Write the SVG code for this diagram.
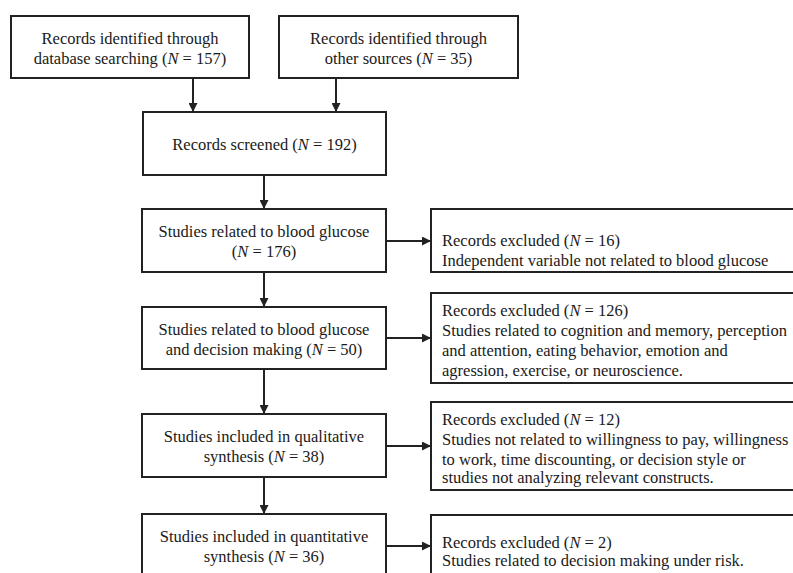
<svg xmlns="http://www.w3.org/2000/svg" width="793" height="573" viewBox="0 0 793 573">
<style>
.box{fill:#fff;stroke:#222;stroke-width:2}
.t{font-family:"Liberation Serif","Times New Roman",serif;font-size:16.5px;fill:#1a1a1a}
.c{text-anchor:middle}
.con{stroke:#222;stroke-width:2;fill:none;marker-end:url(#ah)}
</style>
<defs>
<marker id="ah" viewBox="0 0 10 10" refX="10" refY="5" markerWidth="9" markerHeight="9" markerUnits="userSpaceOnUse" orient="auto">
<path d="M0,0 L10,5 L0,10 Z" fill="#222"/>
</marker>
</defs>
<rect width="793" height="573" fill="#fff"/>
<g id="connectors">
<line class="con" x1="193" y1="78" x2="193" y2="112"/>
<line class="con" x1="336" y1="78" x2="336" y2="112"/>
<line class="con" x1="264" y1="175" x2="264" y2="209"/>
<line class="con" x1="264" y1="272" x2="264" y2="307"/>
<line class="con" x1="264" y1="369" x2="264" y2="414"/>
<line class="con" x1="264" y1="477" x2="264" y2="514"/>
<line class="con" x1="386" y1="241" x2="431" y2="241"/>
<line class="con" x1="386" y1="338" x2="431" y2="338"/>
<line class="con" x1="386" y1="446" x2="431" y2="446"/>
<line class="con" x1="386" y1="546" x2="431" y2="546"/>
</g>
<g id="n_db">
<rect class="box" x="11" y="16" width="238" height="62"/>
<text class="t c" x="130" y="44">Records identified through</text>
<text class="t c" x="130" y="64">database searching (<tspan font-style="italic">N</tspan> = 157)</text>
</g>
<g id="n_other">
<rect class="box" x="279" y="16" width="239" height="62"/>
<text class="t c" x="398.5" y="44">Records identified through</text>
<text class="t c" x="398.5" y="64">other sources (<tspan font-style="italic">N</tspan> = 35)</text>
</g>
<g id="n_screened">
<rect class="box" x="143" y="112" width="243" height="63"/>
<text class="t c" x="264.5" y="150">Records screened (<tspan font-style="italic">N</tspan> = 192)</text>
</g>
<g id="n_glucose">
<rect class="box" x="142" y="209" width="244" height="63"/>
<text class="t c" x="264" y="237">Studies related to blood glucose</text>
<text class="t c" x="264" y="257">(<tspan font-style="italic">N</tspan> = 176)</text>
</g>
<g id="n_decision">
<rect class="box" x="142" y="307" width="244" height="62"/>
<text class="t c" x="264" y="335">Studies related to blood glucose</text>
<text class="t c" x="264" y="355">and decision making  (<tspan font-style="italic">N</tspan> = 50)</text>
</g>
<g id="n_qual">
<rect class="box" x="142" y="414" width="244" height="63"/>
<text class="t c" x="264" y="442">Studies included in qualitative</text>
<text class="t c" x="264" y="462">synthesis (<tspan font-style="italic">N</tspan> = 38)</text>
</g>
<g id="n_quant">
<rect class="box" x="142" y="514" width="244" height="70"/>
<text class="t c" x="264" y="542">Studies included in quantitative</text>
<text class="t c" x="264" y="562">synthesis (<tspan font-style="italic">N</tspan> = 36)</text>
</g>
<g id="n_ex1">
<rect class="box" x="431" y="209" width="380" height="63"/>
<text class="t" x="442" y="246">Records excluded (<tspan font-style="italic">N</tspan> = 16)</text>
<text class="t" x="442" y="266">Independent  variable not related to blood glucose</text>
</g>
<g id="n_ex2">
<rect class="box" x="431" y="293" width="380" height="90"/>
<text class="t" x="442" y="316">Records excluded (<tspan font-style="italic">N</tspan> = 126)</text>
<text class="t" x="442" y="336">Studies related to cognition and memory, perception</text>
<text class="t" x="442" y="356">and attention, eating behavior, emotion and</text>
<text class="t" x="442" y="376">agression, exercise, or neuroscience.</text>
</g>
<g id="n_ex3">
<rect class="box" x="431" y="402" width="380" height="88"/>
<text class="t" x="442" y="425">Records excluded (<tspan font-style="italic">N</tspan> = 12)</text>
<text class="t" x="442" y="445">Studies not related to willingness  to pay, willingness</text>
<text class="t" x="442" y="465">to work, time discounting,  or decision style or</text>
<text class="t" x="442" y="483">studies not analyzing  relevant constructs.</text>
</g>
<g id="n_ex4">
<rect class="box" x="431" y="515" width="380" height="70"/>
<text class="t" x="442" y="548">Records excluded (<tspan font-style="italic">N</tspan> = 2)</text>
<text class="t" x="442" y="566">Studies related to decision making  under risk.</text>
</g>
</svg>
